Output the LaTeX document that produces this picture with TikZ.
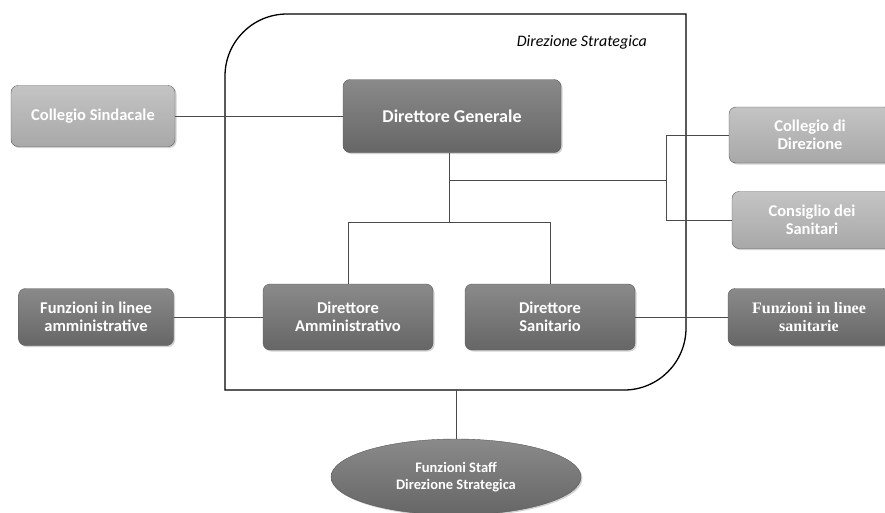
\documentclass[tikz,border=0pt]{standalone}
\usepackage{fontspec}
\setmainfont{Carlito}
\newfontfamily\serifbold{Liberation Serif}
\usetikzlibrary{shapes.geometric,shadows}
\definecolor{darkA}{HTML}{8A8A8A}
\definecolor{darkB}{HTML}{666666}
\definecolor{lightA}{HTML}{C4C4C4}
\definecolor{lightB}{HTML}{A8A8A8}
\definecolor{linecol}{HTML}{4A4A4A}
\tikzset{
  base/.style={rounded corners=7pt, align=center, text=white,
    draw=gray!70!black, line width=0.4pt,
    drop shadow={shadow xshift=1.5pt, shadow yshift=-1.5pt, opacity=0.35}},
  darkbox/.style={base, top color=darkA, bottom color=darkB},
  lightbox/.style={base, top color=lightA, bottom color=lightB},
  lbl/.style={font=\bfseries\fontsize{16.5}{18.5}\selectfont},
  conn/.style={draw=linecol, line width=0.6pt},
  frame/.style={draw=black, line width=1.3pt}
}
\begin{document}
\begin{tikzpicture}[x=1pt,y=1pt]
\useasboundingbox[fill=white] (0,0) rectangle (885,-512);
% frame
\draw[frame] (225,-390) -- (225,-76) arc[start angle=180,end angle=90,radius=62]
  -- (686,-14) -- (686,-328) arc[start angle=0,end angle=-90,radius=62] -- cycle;
\node[font=\itshape\fontsize{16}{18}\selectfont, anchor=east, inner sep=0pt] (title) at (647,-42) {Direzione Strategica};
% nodes
\node[darkbox, minimum width=218, minimum height=73, font=\bfseries\fontsize{18}{20}\selectfont] (dg) at (452,-116) {Direttore Generale};
\node[lightbox, lbl, minimum width=164, minimum height=61] (cs) at (93,-116) {Collegio Sindacale};
\node[lightbox, lbl, minimum width=162, minimum height=56] (cd) at (810,-135) {Collegio di\\Direzione};
\node[lightbox, lbl, minimum width=160, minimum height=57] (csan) at (812,-220) {Consiglio dei\\Sanitari};
\node[darkbox, lbl, minimum width=170, minimum height=66] (da) at (348,-317) {Direttore\\Amministrativo};
\node[darkbox, lbl, minimum width=170, minimum height=66] (ds) at (550,-317) {Direttore\\Sanitario};
\node[darkbox, lbl, minimum width=155, minimum height=57] (fa) at (96,-317) {Funzioni in linee\\amministrative};
\node[darkbox, minimum width=162, minimum height=57, font=\serifbold\bfseries\fontsize{16}{18.5}\selectfont] (fs) at (809,-317) {Funzioni in linee\\sanitarie};
\node[ellipse, draw=gray!70!black, line width=0.4pt, top color=darkA, bottom color=darkB,
  drop shadow={shadow xshift=1.5pt, shadow yshift=-1.5pt, opacity=0.35},
  minimum width=250, minimum height=76, inner sep=0pt, align=center, text=white,
  font=\bfseries\fontsize{14.5}{17}\selectfont] (st) at (456,-477) {Funzioni Staff\\Direzione Strategica};
% junctions
\coordinate (fb) at (456,-390);
\coordinate (j1) at (449,-222);
\coordinate (j2) at (449,-180);
\coordinate (j3) at (666,-180);
% connectors
\draw[conn] (cs.east) -- (dg.west);
\draw[conn] (dg.south -| j1) -- (j1);
\draw[conn] (da.north) -- (da.north |- j1) -- (ds.north |- j1) -- (ds.north);
\draw[conn] (j2) -- (j3);
\draw[conn] (cd.west) -| (j3);
\draw[conn] (csan.west) -| (j3);
\draw[conn] (fa.east) -- (da.west);
\draw[conn] (ds.east) -- (fs.west);
\draw[conn] (fb) -- (st.north);
\end{tikzpicture}
\end{document}
